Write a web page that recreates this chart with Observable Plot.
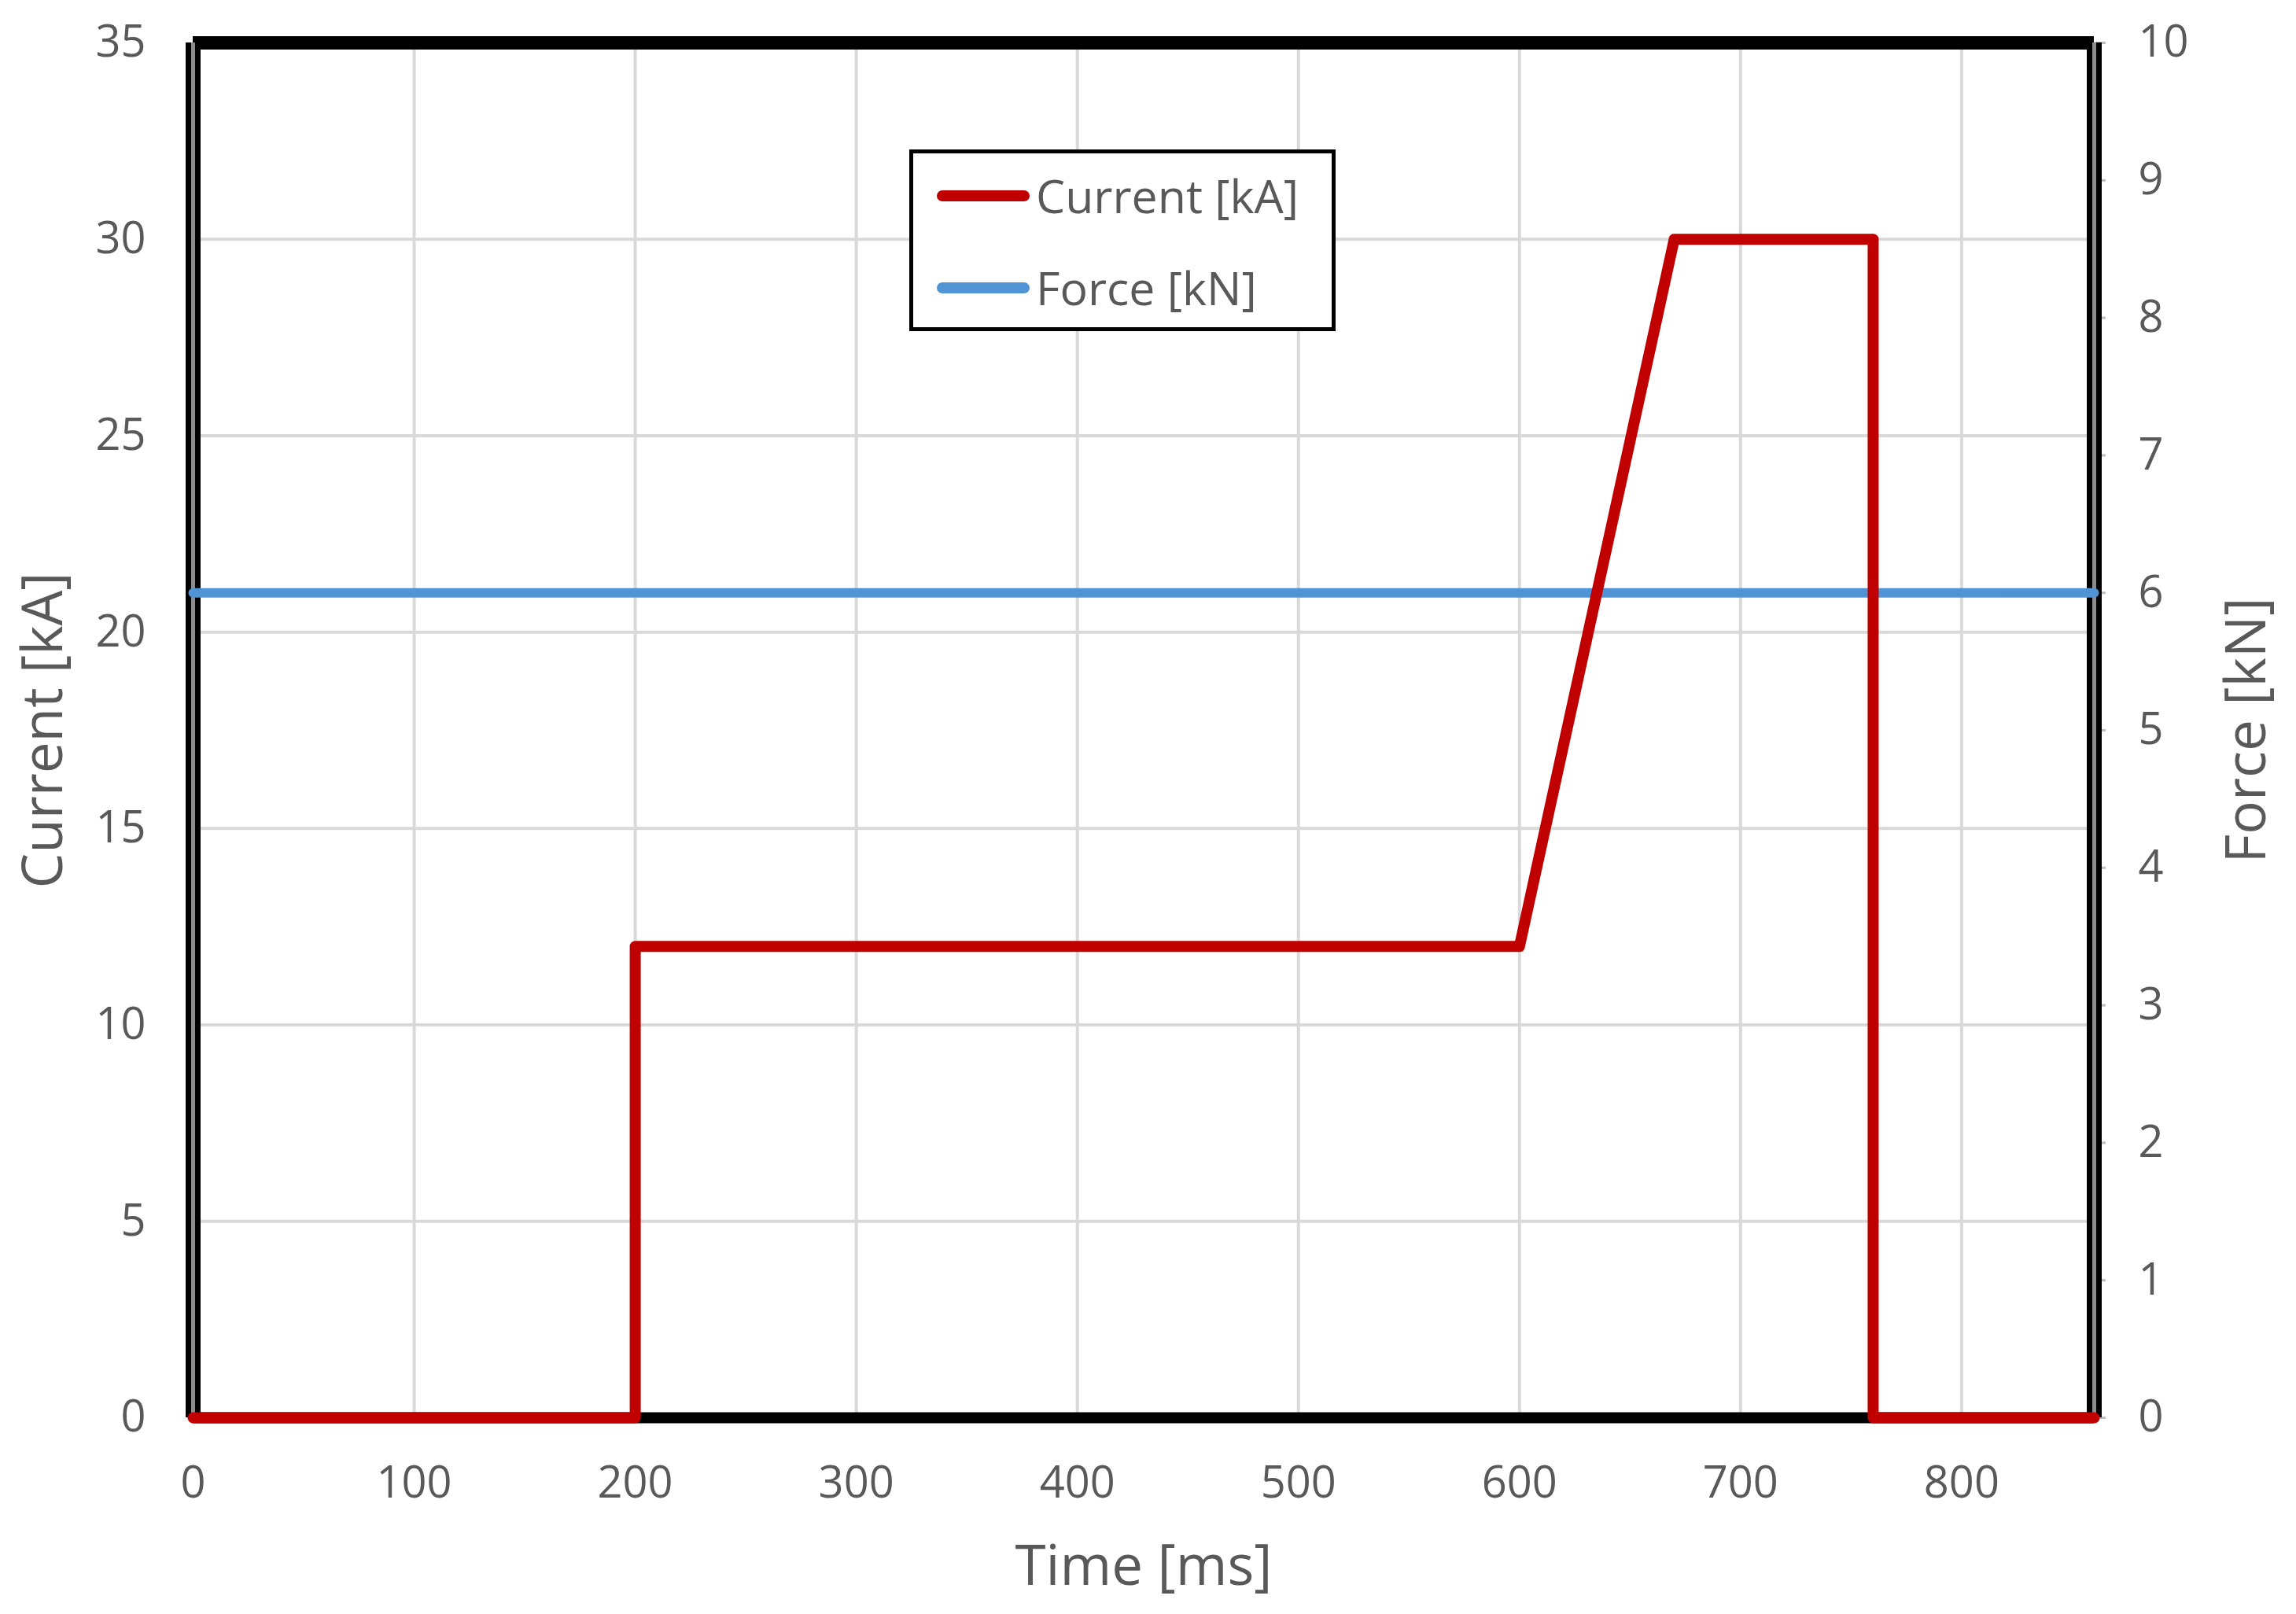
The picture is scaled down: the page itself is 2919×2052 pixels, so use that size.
<!DOCTYPE html>
<html>
<head>
<meta charset="utf-8">
<script src="https://cdn.jsdelivr.net/npm/d3@7"></script>
<script src="https://cdn.jsdelivr.net/npm/@observablehq/plot@0.6"></script>
<style>
  html, body { margin: 0; padding: 0; background: #fff; }
  #wrap { position: relative; width: 2919px; height: 2052px; }
  #legend { position: absolute; left: 1156px; top: 190px; width: 532px; height: 221px;
    border: 5px solid #000; background: #fff; font-family: "Open Sans", sans-serif; }
  .row { position: absolute; left: 30px; display: flex; align-items: center; }
  .swatch { width: 118px; height: 14px; border-radius: 7px; margin-right: 8px; }
  .lbl { font-size: 59px; color: #595959; line-height: 1; }
</style>
</head>
<body>
<div id="wrap"></div>
<script>
// ---- data ----
const timeMs    = [0, 200, 200, 600, 670, 760, 760, 860];
const currentKA = [0, 0, 12, 12, 30, 30, 0, 0];
const forceTime = [0, 860];
const forceKN   = [6, 6];
const xTicks = [0, 100, 200, 300, 400, 500, 600, 700, 800];
const yLeftTicks = [0, 5, 10, 15, 20, 25, 30, 35];
const yRightTicks = [0, 1, 2, 3, 4, 5, 6, 7, 8, 9, 10];
const seriesNames = ["Current [kA]", "Force [kN]"];
const seriesColors = ["#C00000", "#5094D5"];
const xTitle = "Time [ms]";
const yLeftTitle = "Current [kA]";
const yRightTitle = "Force [kN]";

const k = 35 / 10; // force -> current scale factor
const currentData = timeMs.map((t, i) => ({t, v: currentKA[i]}));
const forceData = forceTime.map((t, i) => ({t, v: forceKN[i] * k}));

const font = "'Open Sans', sans-serif";
const grey = "#595959";

const plot = Plot.plot({
  width: 2919,
  height: 2052,
  marginLeft: 245,
  marginRight: 257,
  marginTop: 54,
  marginBottom: 250,
  style: {fontFamily: font, background: "#fff"},
  x: {domain: [0, 860]},
  y: {domain: [0, 35]},
  marks: [
    Plot.gridX(xTicks.filter(d => d > 0), {stroke: "#D9D9D9", strokeOpacity: 1, strokeWidth: 4}),
    Plot.gridY(yLeftTicks.filter(d => d > 0 && d < 35), {stroke: "#D9D9D9", strokeOpacity: 1, strokeWidth: 4}),
    Plot.axisX(xTicks, {tickSize: 0, tickPadding: 62, fontSize: 56, fill: grey, tickFormat: d => String(d), label: null}),
    Plot.axisY(yLeftTicks, {anchor: "left", tickSize: 0, tickPadding: 60, fontSize: 56, fill: grey, tickFormat: d => String(d), label: null}),
    Plot.axisY(yRightTicks.map(d => d * k), {anchor: "right", tickSize: 14, stroke: "#BFBFBF", strokeWidth: 3,
      tickPadding: 42, fontSize: 56, fill: grey, tickFormat: d => String(Math.round(d / k)), label: null}),
    // axis titles
    Plot.text([xTitle], {text: d => d, frameAnchor: "bottom", dy: 212, fontSize: 71, fill: grey, textAnchor: "middle"}),
    Plot.text([yLeftTitle], {text: d => d, frameAnchor: "left", dx: -189, rotate: -90, fontSize: 71, fill: grey, textAnchor: "middle"}),
    Plot.text([yRightTitle], {text: d => d, frameAnchor: "right", dx: 195, rotate: -90, fontSize: 71, fill: grey, textAnchor: "middle"}),
    // frame
    Plot.ruleY([35], {stroke: "#000", strokeWidth: 17}),
    Plot.ruleY([0], {stroke: "#000", strokeWidth: 14}),
    Plot.ruleX([0, 860], {stroke: "#000", strokeWidth: 19}),
    Plot.ruleX([0, 860], {stroke: "#8c8c8c", strokeWidth: 5}),
    // series
    Plot.line(forceData, {x: "t", y: "v", stroke: seriesColors[1], strokeWidth: 12}),
    Plot.line(currentData, {x: "t", y: "v", stroke: seriesColors[0], strokeWidth: 14, strokeLinejoin: "round"})
  ]
});

const wrap = document.getElementById("wrap");
wrap.appendChild(plot);

// legend
const legend = document.createElement("div");
legend.id = "legend";
seriesNames.forEach((name, i) => {
  const row = document.createElement("div");
  row.className = "row";
  row.style.top = (i === 0 ? 24 : 141) + "px";
  row.innerHTML = `<div class="swatch" style="background:${seriesColors[i]}"></div><span class="lbl">${name}</span>`;
  legend.appendChild(row);
});
wrap.appendChild(legend);
</script>
</body>
</html>
